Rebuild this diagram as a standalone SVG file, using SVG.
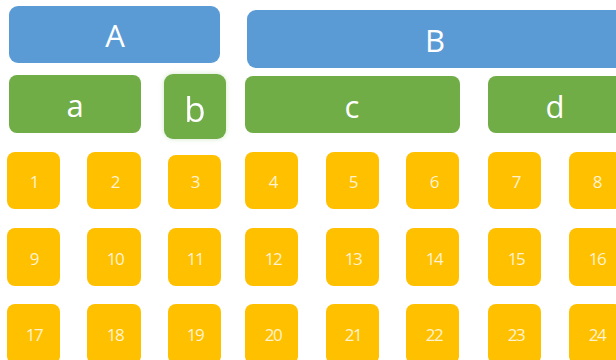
<svg xmlns="http://www.w3.org/2000/svg" width="616" height="360" viewBox="0 0 616 360">
<defs>
<style>
.blue{fill:#5B9BD5}
.green{fill:#70AD47}
.yel{fill:#FFC000}
.lt{font-family:"Open Sans","Liberation Sans",sans-serif;fill:#FFFFFF;text-anchor:middle;font-size:31px}
.num{font-family:"Open Sans","Liberation Sans",sans-serif;fill:#FFF3D2;text-anchor:middle;font-size:17px;letter-spacing:-1.4px}
</style>
<filter id="glow" x="-30%" y="-30%" width="160%" height="160%">
<feGaussianBlur in="SourceAlpha" stdDeviation="2.5" result="b"/>
<feFlood flood-color="#C5E0B4" flood-opacity="0.8"/>
<feComposite in2="b" operator="in" result="g"/>
<feGaussianBlur in="SourceGraphic" stdDeviation="0.6" result="s"/>
<feMerge><feMergeNode in="g"/><feMergeNode in="s"/></feMerge>
</filter>
</defs>
<g id="A"><rect class="blue" x="9" y="6" width="211" height="57" rx="9"/><text class="lt" x="115" y="47">A</text></g>
<g id="B"><rect class="blue" x="247" y="10" width="380" height="58" rx="9"/><text class="lt" x="435" y="52">B</text></g>
<g id="a"><rect class="green" x="9" y="75" width="132" height="58" rx="8"/><text class="lt" x="75" y="117">a</text></g>
<g id="b" filter="url(#glow)"><rect class="green" x="164" y="74" width="62" height="65" rx="9"/><text class="lt" x="195" y="122" style="font-size:35px">b</text></g>
<g id="c"><rect class="green" x="245" y="76" width="215" height="57" rx="8"/><text class="lt" x="352" y="118">c</text></g>
<g id="d"><rect class="green" x="488" y="76" width="140" height="57" rx="8"/><text class="lt" x="555" y="118">d</text></g>
<g id="connectors"></g>
<g id="n1"><rect class="yel" x="7" y="152" width="53" height="57" rx="8"/><text class="num" x="34" y="188">1</text></g>
<g id="n2"><rect class="yel" x="87" y="152" width="54" height="57" rx="8"/><text class="num" x="115" y="188">2</text></g>
<g id="n3"><rect class="yel" x="168" y="155" width="53" height="54" rx="8"/><text class="num" x="195" y="188">3</text></g>
<g id="n4"><rect class="yel" x="245" y="152" width="53" height="57" rx="8"/><text class="num" x="273" y="188">4</text></g>
<g id="n5"><rect class="yel" x="326" y="152" width="53" height="57" rx="8"/><text class="num" x="353" y="188">5</text></g>
<g id="n6"><rect class="yel" x="406" y="152" width="53" height="57" rx="8"/><text class="num" x="434" y="188">6</text></g>
<g id="n7"><rect class="yel" x="488" y="152" width="53" height="57" rx="8"/><text class="num" x="516" y="188">7</text></g>
<g id="n8"><rect class="yel" x="569" y="152" width="53" height="57" rx="8"/><text class="num" x="597" y="188">8</text></g>
<g id="n9"><rect class="yel" x="7" y="228" width="53" height="58" rx="8"/><text class="num" x="34" y="265">9</text></g>
<g id="n10"><rect class="yel" x="87" y="228" width="54" height="58" rx="8"/><text class="num" x="115" y="265">10</text></g>
<g id="n11"><rect class="yel" x="168" y="228" width="53" height="58" rx="8"/><text class="num" x="195" y="265">11</text></g>
<g id="n12"><rect class="yel" x="245" y="228" width="53" height="58" rx="8"/><text class="num" x="273" y="265">12</text></g>
<g id="n13"><rect class="yel" x="326" y="228" width="53" height="58" rx="8"/><text class="num" x="353" y="265">13</text></g>
<g id="n14"><rect class="yel" x="406" y="228" width="53" height="58" rx="8"/><text class="num" x="434" y="265">14</text></g>
<g id="n15"><rect class="yel" x="488" y="228" width="53" height="58" rx="8"/><text class="num" x="516" y="265">15</text></g>
<g id="n16"><rect class="yel" x="569" y="228" width="53" height="58" rx="8"/><text class="num" x="597" y="265">16</text></g>
<g id="n17"><rect class="yel" x="7" y="304" width="53" height="60" rx="8"/><text class="num" x="34" y="341">17</text></g>
<g id="n18"><rect class="yel" x="87" y="304" width="54" height="60" rx="8"/><text class="num" x="115" y="341">18</text></g>
<g id="n19"><rect class="yel" x="168" y="304" width="53" height="60" rx="8"/><text class="num" x="195" y="341">19</text></g>
<g id="n20"><rect class="yel" x="245" y="304" width="53" height="60" rx="8"/><text class="num" x="273" y="341">20</text></g>
<g id="n21"><rect class="yel" x="326" y="304" width="53" height="60" rx="8"/><text class="num" x="353" y="341">21</text></g>
<g id="n22"><rect class="yel" x="406" y="304" width="53" height="60" rx="8"/><text class="num" x="434" y="341">22</text></g>
<g id="n23"><rect class="yel" x="488" y="304" width="53" height="60" rx="8"/><text class="num" x="516" y="341">23</text></g>
<g id="n24"><rect class="yel" x="569" y="304" width="53" height="60" rx="8"/><text class="num" x="597" y="341">24</text></g>
</svg>
